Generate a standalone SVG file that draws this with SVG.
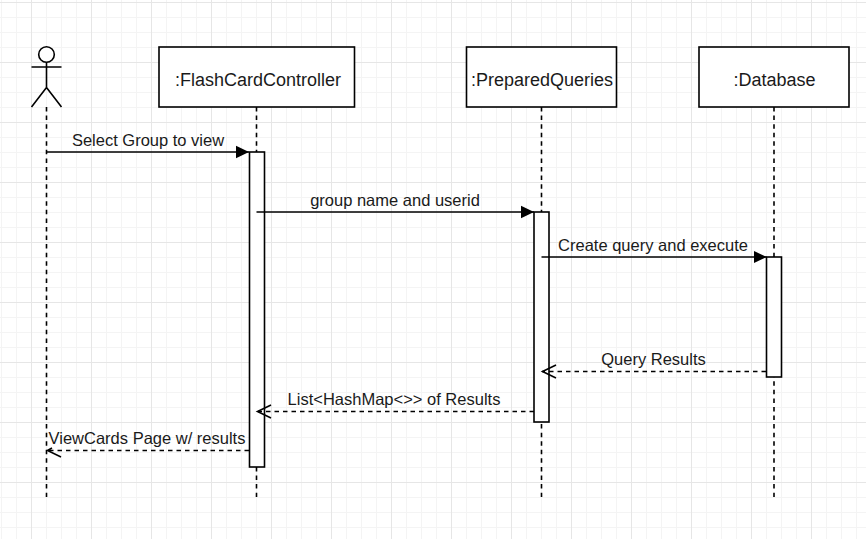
<svg xmlns="http://www.w3.org/2000/svg" width="866" height="539" viewBox="0 0 866 539">
<style>
text{font-family:"Liberation Sans",Arial,sans-serif;fill:#1a1a1a}
.t{font-size:16.5px;text-anchor:middle}
.n{font-size:18px;text-anchor:middle}
.box{fill:#fff;stroke:#000;stroke-width:1.6}
.ll{fill:none;stroke:#000;stroke-width:1.6;stroke-dasharray:4.5 4.07}
.m{fill:none;stroke:#000;stroke-width:1.6}
.r{fill:none;stroke:#000;stroke-width:1.6;stroke-dasharray:4.5 4}
.o{fill:none;stroke:#000;stroke-width:1.6}
</style>
<defs>
<pattern id="minor" width="15" height="15" patternUnits="userSpaceOnUse" x="1" y="2"><path d="M15 .5H0M.5 0V15" fill="none" stroke="#f4f4f4" stroke-width="1"/></pattern>
<pattern id="major" width="60" height="60" patternUnits="userSpaceOnUse" x="31" y="2"><path d="M60 .5H0M.5 0V60" fill="none" stroke="#e6e6e6" stroke-width="1"/></pattern>
<marker id="fill" markerUnits="userSpaceOnUse" markerWidth="14" markerHeight="14" refX="13" refY="7" orient="auto"><path d="M0 .7 13 7 0 13.300Z" fill="#000"/></marker>
</defs>
<rect width="866" height="539" fill="#fff"/>
<rect width="866" height="539" fill="url(#minor)"/>
<rect width="866" height="539" fill="url(#major)"/>
<g id="actor-user"><circle cx="46.5" cy="54.5" r="7.8" class="box"/><path class="m" d="M46.500 62.500V87.500M31.500 67H61.500M46.500 87.500 31.500 107M46.500 87.500 61.500 107"/><path class="ll" d="M46.500 107V497"/></g>
<g id="flashcard-controller"><path class="ll" d="M256.500 107V497"/><rect class="box" x="159" y="47" width="195.500" height="60"/><text class="n" x="258" y="86">:FlashCardController</text><rect class="box" x="249.500" y="152" width="15" height="315"/></g>
<g id="prepared-queries"><path class="ll" d="M541.500 107V497"/><rect class="box" x="466.500" y="47" width="150" height="60"/><text class="n" x="542" y="86">:PreparedQueries</text><rect class="box" x="534" y="212" width="15" height="210"/></g>
<g id="database"><path class="ll" d="M774 107V497"/><rect class="box" x="699" y="47" width="150" height="60"/><text class="n" x="774.500" y="86">:Database</text><rect class="box" x="766.500" y="257" width="15" height="120"/></g>
<g id="connectors">
<path class="m" d="M46.500 152H249" marker-end="url(#fill)"/>
<path class="m" d="M256.500 212H534" marker-end="url(#fill)"/>
<path class="m" d="M541.500 257H766.500" marker-end="url(#fill)"/>
<path class="r" d="M766 371.500H542"/><path class="o" d="M556 365 542.500 371.500 556 378"/>
<path class="r" d="M534 411.500H258"/><path class="o" d="M271 405 257.500 411.500 271 418"/>
<path class="r" d="M249 450.500H48"/><path class="o" d="M61 457 47.500 450.500 52 448"/>
</g>
<g id="labels">
<text class="t" x="148" y="146">Select Group to view</text>
<text class="t" x="395" y="206">group name and userid</text>
<text class="t" x="653" y="251">Create query and execute</text>
<text class="t" x="653.500" y="365">Query Results</text>
<text class="t" x="394" y="405">List&lt;HashMap&lt;&gt;&gt; of Results</text>
<text class="t" x="147" y="444">ViewCards Page w/ results</text>
</g>
</svg>
